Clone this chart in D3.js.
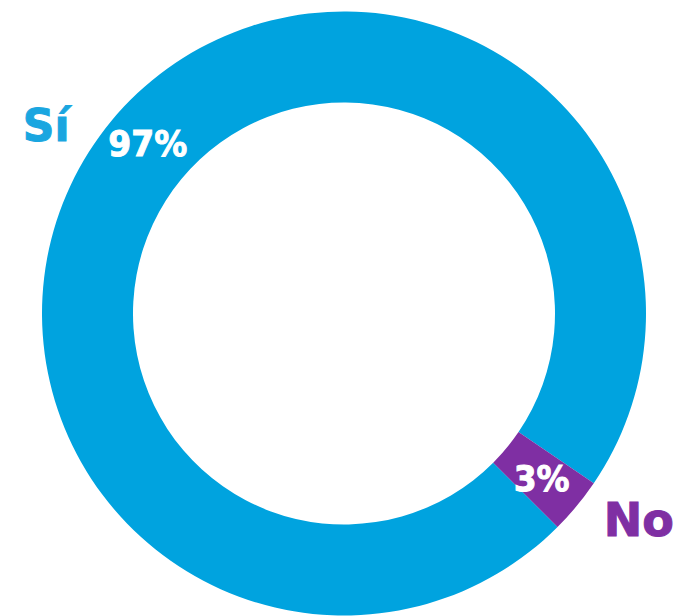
<!DOCTYPE html>
<html>
<head>
<meta charset="utf-8">
<script src="https://cdn.jsdelivr.net/npm/d3@7"></script>
<style>
  html, body { margin: 0; padding: 0; background: #ffffff; }
  svg { display: block; }
  text { font-family: "DejaVu Sans", "Open Sans", sans-serif; font-weight: bold; }
</style>
</head>
<body>
<svg id="chart" width="677" height="616"></svg>
<script>
// Survey answers and their shares (percent)
const categories = ["Sí", "No"];
const values = [97, 3];
const colors = ["#00A3DF", "#7F2FA3"];
const labelColors = ["#1AA6E0", "#7F2FA3"];

const width = 677, height = 616;
const cx = 344, cy = 313.5;
const outerR = 302, innerR = 211;

const svg = d3.select("#chart");
const g = svg.append("g").attr("transform", `translate(${cx},${cy})`);

const deg = Math.PI / 180;
const pie = d3.pie().sort(null).value(d => d.value)
  .startAngle(135 * deg).endAngle(135 * deg + 2 * Math.PI);

const data = categories.map((c, i) => ({ category: c, value: values[i], color: colors[i], labelColor: labelColors[i] }));
const arcs = pie(data);

const arc = d3.arc().innerRadius(innerR).outerRadius(outerR);

g.selectAll("path.slice")
  .data(arcs)
  .join("path")
  .attr("class", "slice")
  .attr("d", arc)
  .attr("fill", d => d.data.color);

// Percentage labels inside the ring
const midR = (innerR + outerR) / 2;
const pctAngle = [-49 * deg, null];
g.selectAll("text.pct")
  .data(arcs)
  .join("text")
  .attr("class", "pct")
  .attr("text-anchor", "middle")
  .attr("dominant-baseline", "central")
  .attr("fill", "#ffffff")
  .attr("stroke", "#ffffff")
  .attr("stroke-width", 0.9)
  .attr("font-size", 33)
  .attr("transform", (d, i) => {
    const a = pctAngle[i] !== null ? pctAngle[i] : (d.startAngle + d.endAngle) / 2;
    const r = i === 0 ? 260 : midR;
    return `translate(${r * Math.sin(a)},${-r * Math.cos(a) + 1}) scale(1,1.1)`;
  })
  .text(d => d.data.value + "%");

// Category labels outside the ring
const catAngle = [-57.8 * deg, 125 * deg];
const catR = [352, 360];
const catSize = [44, 46];
g.selectAll("text.cat")
  .data(arcs)
  .join("text")
  .attr("class", "cat")
  .attr("text-anchor", "middle")
  .attr("dominant-baseline", "central")
  .attr("fill", d => d.data.labelColor)
  .attr("stroke", d => d.data.labelColor)
  .attr("stroke-width", 1)
  .attr("font-size", (d, i) => catSize[i])
  .attr("transform", (d, i) => `translate(${catR[i] * Math.sin(catAngle[i])},${-catR[i] * Math.cos(catAngle[i])})`)
  .text(d => d.data.category);
</script>
</body>
</html>
